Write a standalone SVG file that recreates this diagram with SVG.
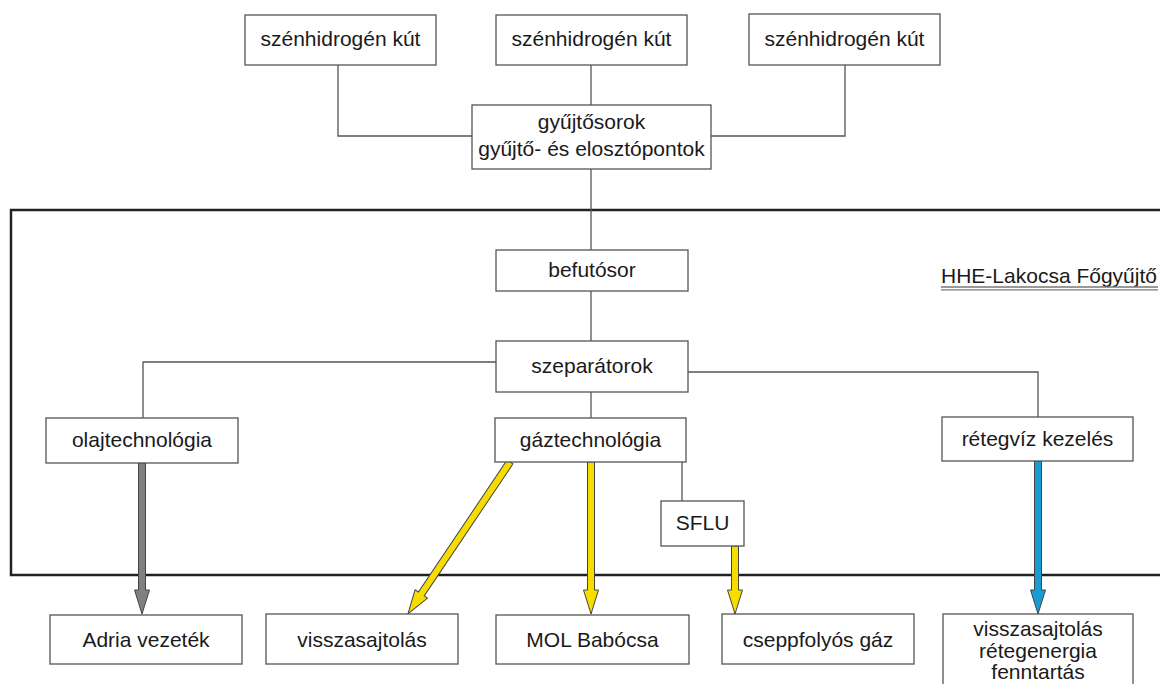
<svg xmlns="http://www.w3.org/2000/svg" width="1160" height="684" viewBox="0 0 1160 684">
<defs>
<style>
.box{fill:#fff;stroke:#555;stroke-width:1.3}
.lbl{font-family:"Liberation Sans",Arial,sans-serif;font-size:21px;fill:#1a1a1a;text-anchor:middle}
.con{fill:none;stroke:#555;stroke-width:1.3}
.arr{stroke:#444;stroke-width:1;stroke-linejoin:miter}
.gray{fill:#808080}
.yel{fill:#f7dc00}
.blue{fill:#1a9bd3}
</style>
</defs>
<rect width="1160" height="684" fill="#fff"/>
<g id="frame">
<rect x="11" y="210" width="1200" height="365" fill="none" stroke="#222" stroke-width="2.5"/>
<text class="lbl" x="1049" y="283">HHE-Lakocsa Főgyűjtő</text>
<line x1="941" y1="287" x2="1158" y2="287" stroke="#777" stroke-width="1.3"/>
<line x1="941" y1="289.8" x2="1158" y2="289.8" stroke="#777" stroke-width="1.3"/>
</g>
<g id="connectors">
<polyline class="con" points="338,65 338,136 472,136"/>
<line class="con" x1="591" y1="65" x2="591" y2="105"/>
<polyline class="con" points="845,65 845,136 711,136"/>
<line class="con" x1="591" y1="169" x2="591" y2="250"/>
<line class="con" x1="591" y1="291" x2="591" y2="341"/>
<polyline class="con" points="496,362 143,362 143,418"/>
<polyline class="con" points="688,372 1038,372 1038,417"/>
<line class="con" x1="591" y1="392" x2="591" y2="418"/>
<line class="con" x1="682" y1="462" x2="682" y2="501"/>
<path class="arr gray" transform="translate(142,463)" d="M-3.5 0H3.5V127H7.5L0 151L-7.5 127H-3.5Z"/>
<path class="arr yel" transform="translate(510,462) rotate(33.9)" d="M-3.5 0H3.5V159H7.5L0 183L-7.5 159H-3.5Z"/>
<path class="arr yel" transform="translate(591,462)" d="M-3.5 0H3.5V128H7.5L0 152L-7.5 128H-3.5Z"/>
<path class="arr yel" transform="translate(735,546)" d="M-3.5 0H3.5V44H7.5L0 68L-7.5 44H-3.5Z"/>
<path class="arr blue" transform="translate(1038,461)" d="M-3.5 0H3.5V129H7.5L0 153L-7.5 129H-3.5Z"/>
</g>
<g id="well1"><rect class="box" x="245" y="15" width="191" height="50"/><text class="lbl" x="340.5" y="46">szénhidrogén kút</text></g>
<g id="well2"><rect class="box" x="496" y="15" width="191" height="50"/><text class="lbl" x="591.5" y="46">szénhidrogén kút</text></g>
<g id="well3"><rect class="box" x="749" y="14" width="191" height="51"/><text class="lbl" x="844.5" y="46">szénhidrogén kút</text></g>
<g id="gyujto"><rect class="box" x="472" y="105" width="239" height="64"/><text class="lbl" x="591.5" y="129">gyűjtősorok</text><text class="lbl" x="591.5" y="156">gyűjtő- és elosztópontok</text></g>
<g id="befuto"><rect class="box" x="496" y="250" width="192" height="41"/><text class="lbl" x="592" y="277">befutósor</text></g>
<g id="szeparator"><rect class="box" x="496" y="341" width="192" height="51"/><text class="lbl" x="592" y="373">szeparátorok</text></g>
<g id="olaj"><rect class="box" x="46" y="418" width="192" height="45"/><text class="lbl" x="142" y="447">olajtechnológia</text></g>
<g id="gaz"><rect class="box" x="495" y="418" width="191" height="44"/><text class="lbl" x="590.5" y="447">gáztechnológia</text></g>
<g id="retegviz"><rect class="box" x="942" y="417" width="191" height="44"/><text class="lbl" x="1037.5" y="446">rétegvíz kezelés</text></g>
<g id="sflu"><rect class="box" x="661" y="501" width="83" height="45"/><text class="lbl" x="702.5" y="530">SFLU</text></g>
<g id="adria"><rect class="box" x="50" y="615" width="192" height="49"/><text class="lbl" x="146" y="647">Adria vezeték</text></g>
<g id="vissza"><rect class="box" x="266" y="614" width="192" height="50"/><text class="lbl" x="362" y="647">visszasajtolás</text></g>
<g id="mol"><rect class="box" x="496" y="615" width="193" height="49"/><text class="lbl" x="592.5" y="647">MOL Babócsa</text></g>
<g id="csepp"><rect class="box" x="722" y="614" width="192" height="50"/><text class="lbl" x="818" y="647">cseppfolyós gáz</text></g>
<g id="vissza2"><rect class="box" x="943" y="614" width="190" height="90"/><text class="lbl" x="1038" y="636">visszasajtolás</text><text class="lbl" x="1038" y="658">rétegenergia</text><text class="lbl" x="1038" y="679">fenntartás</text></g>
</svg>
